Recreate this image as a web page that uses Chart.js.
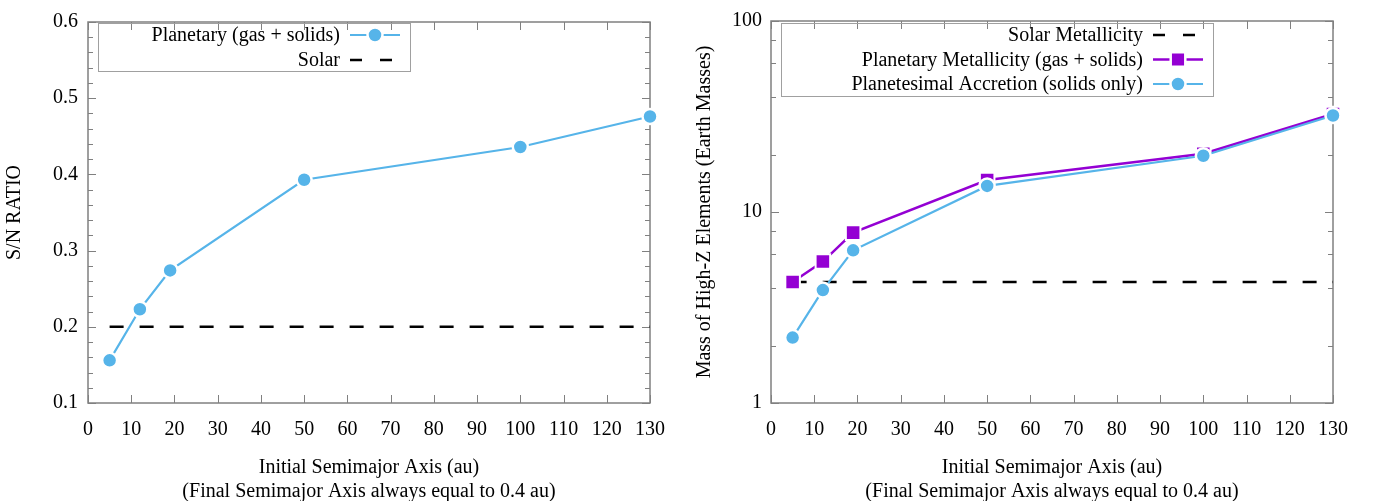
<!DOCTYPE html>
<html>
<head>
<meta charset="utf-8">
<script src="https://cdn.jsdelivr.net/npm/chart.js@4.4.0/dist/chart.umd.min.js"></script>
<style>
  html, body { margin: 0; padding: 0; background: #fff; }
  #wrap { position: relative; width: 1377px; height: 501px; }
  .box { position: absolute; top: 0; height: 501px; }
  #leftBox { left: 0; width: 688px; }
  #rightBox { left: 688px; width: 689px; }
</style>
</head>
<body>
<div id="wrap">
  <div class="box" id="leftBox"><canvas id="ratioChart"></canvas></div>
  <div class="box" id="rightBox"><canvas id="massChart"></canvas></div>
</div>
<script>
// initial semimajor axis (au)
const semimajor = [5, 12, 19, 50, 100, 130];
const solarSpan = [5, 130];

// left panel: S/N ratio
const snPlanetary = [0.156, 0.223, 0.274, 0.393, 0.436, 0.476];
const snSolar = 0.2;
const ratioTicks = [0.1, 0.2, 0.3, 0.4, 0.5, 0.6];

// right panel: mass of high-Z elements (Earth masses)
const zPlanetary = [4.3, 5.5, 7.8, 14.7, 20.2, 32.6];
const zPlanetesimal = [2.2, 3.9, 6.3, 13.7, 19.7, 32.0];
const zSolar = 4.3;
const massTicks = [1, 10, 100];
const massMinorTicks = [2, 4, 6, 8, 20, 40, 60, 80];

const xTicks = [0, 10, 20, 30, 40, 50, 60, 70, 80, 90, 100, 110, 120, 130];

const BLUE = '#56b4e9';
const PURPLE = '#9400d3';
const FRAME = '#808080';

Chart.defaults.font.family = "'Liberation Serif', 'DejaVu Serif', serif";
Chart.defaults.font.size = 20;
Chart.defaults.color = '#000';

const pts = (xs, ys) => xs.map((x, i) => ({ x, y: ys[i] }));

// inward tick marks on all four sides + grey frame
const frameTicks = {
  id: 'frameTicks',
  beforeDatasetsDraw(chart, args, opts) {
    const { ctx, chartArea: a } = chart;
    const xs = chart.scales.x, ys = chart.scales.y;
    ctx.save();
    ctx.strokeStyle = FRAME;
    ctx.lineWidth = 1;
    xTicks.forEach(v => {
      const px = Math.round(xs.getPixelForValue(v)) + 0.5;
      ctx.beginPath();
      ctx.moveTo(px, a.bottom); ctx.lineTo(px, a.bottom - 8);
      ctx.moveTo(px, a.top); ctx.lineTo(px, a.top + 8);
      ctx.stroke();
    });
    const yt = (v, len) => {
      const py = Math.round(ys.getPixelForValue(v)) + 0.5;
      ctx.beginPath();
      ctx.moveTo(a.left, py); ctx.lineTo(a.left + len, py);
      ctx.moveTo(a.right, py); ctx.lineTo(a.right - len, py);
      ctx.stroke();
    };
    opts.major.forEach(v => yt(v, 8));
    opts.minor.forEach(v => yt(v, 5));
    ctx.lineWidth = 1.5;
    ctx.strokeRect(a.left, a.top, a.right - a.left, a.bottom - a.top);
    ctx.restore();
  }
};

// key box in the top-left of the plot, text right-aligned, sample on the right
const keyBox = {
  id: 'keyBox',
  afterDraw(chart, args, opts) {
    const ctx = chart.ctx;
    const b = opts.box;
    ctx.save();
    ctx.strokeStyle = '#a0a0a0';
    ctx.lineWidth = 1;
    ctx.strokeRect(b.x + 0.5, b.y + 0.5, b.w, b.h);
    ctx.font = "20px 'Liberation Serif', serif";
    ctx.fillStyle = '#000';
    ctx.textAlign = 'right';
    ctx.textBaseline = 'middle';
    opts.items.forEach((it, i) => {
      const y = b.y + opts.firstRow + i * opts.rowGap;
      ctx.fillText(it.text, opts.textRight, y + 1);
      const x1 = opts.sample[0], x2 = opts.sample[1], xc = (x1 + x2) / 2;
      ctx.strokeStyle = it.color;
      ctx.lineWidth = it.width;
      ctx.setLineDash(it.dash || []);
      ctx.beginPath();
      ctx.moveTo(x1, y); ctx.lineTo(x2, y);
      ctx.stroke();
      ctx.setLineDash([]);
      if (it.marker) {
        ctx.fillStyle = it.color;
        ctx.strokeStyle = '#fff';
        ctx.lineWidth = 2.5;
        ctx.beginPath();
        if (it.marker === 'circle') ctx.arc(xc, y, 7.5, 0, Math.PI * 2);
        else ctx.rect(xc - 7.3, y - 7.3, 14.6, 14.6);
        ctx.fill(); ctx.stroke();
        ctx.fillStyle = '#000';
      }
    });
    ctx.restore();
  }
};

function xScale() {
  return {
    type: 'linear', min: 0, max: 130,
    afterBuildTicks: s => { s.ticks = xTicks.map(v => ({ value: v })); },
    afterFit: s => { s.height = 98; },
    grid: { display: false, drawTicks: false },
    border: { display: false },
    ticks: { padding: 15, font: { size: 20 }, maxRotation: 0 },
    title: {
      display: true,
      text: ['Initial Semimajor Axis (au)', '(Final Semimajor Axis always equal to 0.4 au)'],
      font: { size: 20, lineHeight: 1.2 },
      padding: { top: 0, bottom: -3 }
    }
  };
}

const common = {
  responsive: true,
  maintainAspectRatio: false,
  animation: false,
  devicePixelRatio: 1,
  plugins: { legend: { display: false }, tooltip: { enabled: false } }
};

new Chart(document.getElementById('ratioChart'), {
  type: 'line',
  data: {
    datasets: [
      {
        label: 'Planetary (gas + solids)',
        data: pts(semimajor, snPlanetary),
        borderColor: BLUE, borderWidth: 2.2,
        pointStyle: 'circle', pointRadius: 7.5, pointBorderWidth: 2.5,
        pointBackgroundColor: BLUE, pointBorderColor: '#fff',
        clip: false, order: 0
      },
      {
        label: 'Solar',
        data: pts(solarSpan, [snSolar, snSolar]),
        borderColor: '#000', borderWidth: 2.5, borderDash: [14, 16],
        pointRadius: 0, clip: false, order: 1
      }
    ]
  },
  options: {
    ...common,
    layout: { padding: { top: 14, right: 38, left: 0, bottom: 0 } },
    scales: {
      x: xScale(),
      y: {
        type: 'linear', min: 0.1, max: 0.6,
        afterBuildTicks: s => { s.ticks = ratioTicks.map(v => ({ value: v })); },
        afterFit: s => { s.width = 88; },
        grid: { display: false, drawTicks: false },
        border: { display: false },
        ticks: { padding: 10, callback: v => v.toFixed(1) },
        title: { display: true, text: 'S/N RATIO', font: { size: 20 }, padding: { top: 3, bottom: 0 } }
      }
    },
    plugins: {
      ...common.plugins,
      frameTicks: {
        major: ratioTicks,
        minor: [0.12, 0.14, 0.16, 0.18, 0.22, 0.24, 0.26, 0.28, 0.32, 0.34, 0.36, 0.38,
                0.42, 0.44, 0.46, 0.48, 0.52, 0.54, 0.56, 0.58]
      },
      keyBox: {
        box: { x: 98, y: 23, w: 312, h: 48 },
        firstRow: 12, rowGap: 25, textRight: 340, sample: [350, 400],
        items: [
          { text: 'Planetary (gas + solids)', color: BLUE, width: 2, marker: 'circle' },
          { text: 'Solar', color: '#000', width: 2.5, dash: [12, 18] }
        ]
      }
    }
  },
  plugins: [frameTicks, keyBox]
});

new Chart(document.getElementById('massChart'), {
  type: 'line',
  data: {
    datasets: [
      {
        label: 'Solar Metallicity',
        data: pts(solarSpan, [zSolar, zSolar]),
        borderColor: '#000', borderWidth: 2.5, borderDash: [14, 16],
        pointRadius: 0, clip: false, order: 2
      },
      {
        label: 'Planetary Metallicity (gas + solids)',
        data: pts(semimajor, zPlanetary),
        borderColor: PURPLE, borderWidth: 2.5,
        pointStyle: 'rect', pointRadius: 10.3, pointBorderWidth: 2,
        pointBackgroundColor: PURPLE, pointBorderColor: '#fff',
        clip: false, order: 1
      },
      {
        label: 'Planetesimal Accretion (solids only)',
        data: pts(semimajor, zPlanetesimal),
        borderColor: BLUE, borderWidth: 2.2,
        pointStyle: 'circle', pointRadius: 7.5, pointBorderWidth: 2.5,
        pointBackgroundColor: BLUE, pointBorderColor: '#fff',
        clip: false, order: 0
      }
    ]
  },
  options: {
    ...common,
    layout: { padding: { top: 14, right: 44, left: 0, bottom: 0 } },
    scales: {
      x: xScale(),
      y: {
        type: 'logarithmic', min: 1, max: 100,
        afterBuildTicks: s => { s.ticks = massTicks.map(v => ({ value: v })); },
        afterFit: s => { s.width = 83; },
        grid: { display: false, drawTicks: false },
        border: { display: false },
        ticks: { padding: 9, callback: v => String(v) },
        title: { display: true, text: 'Mass of High-Z Elements (Earth Masses)', font: { size: 20 }, padding: { top: 5, bottom: 0 } }
      }
    },
    plugins: {
      ...common.plugins,
      frameTicks: { major: massTicks, minor: massMinorTicks },
      keyBox: {
        box: { x: 93, y: 23, w: 432, h: 73 },
        firstRow: 12, rowGap: 24.5, textRight: 455, sample: [465, 515],
        items: [
          { text: 'Solar Metallicity', color: '#000', width: 2.5, dash: [12, 18] },
          { text: 'Planetary Metallicity (gas + solids)', color: PURPLE, width: 2.5, marker: 'rect' },
          { text: 'Planetesimal Accretion (solids only)', color: BLUE, width: 2, marker: 'circle' }
        ]
      }
    }
  },
  plugins: [frameTicks, keyBox]
});
</script>
</body>
</html>
